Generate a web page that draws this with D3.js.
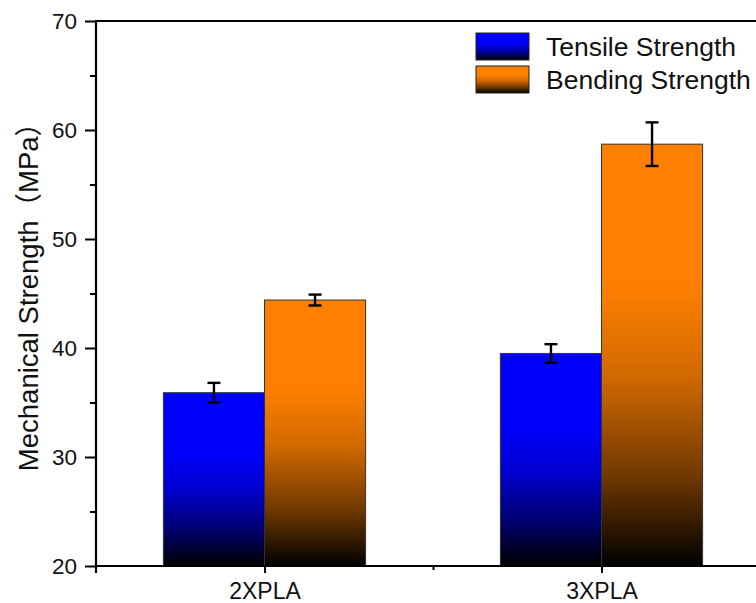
<!DOCTYPE html>
<html>
<head>
<meta charset="utf-8">
<script src="https://cdn.jsdelivr.net/npm/d3@7"></script>
<style>
  html, body { margin: 0; padding: 0; background: #fff; }
  svg { display: block; }
  text { font-family: Arial, "Liberation Sans", sans-serif; fill: #111; }
</style>
</head>
<body>
<svg id="chart" width="756" height="603"></svg>
<script>
// Sample categories and measured strengths (MPa) with their standard deviations
const categories = ["2XPLA", "3XPLA"];
const seriesNames = ["Tensile Strength", "Bending Strength"];
const seriesColors = ["#0000ff", "#ff8000"];
const tensile = [35.9, 39.5];
const tensileErr = [0.9, 0.85];
const bending = [44.4, 58.7];
const bendingErr = [0.5, 2.0];
const yTicks = [20, 30, 40, 50, 60, 70];
const yMinorTicks = [25, 35, 45, 55, 65];

const svg = d3.select("#chart");
const margin = { left: 96, top: 21, bottom: 566 };

// x runs on a continuous index so group centres sit at 1 and 2
const x = d3.scaleLinear().domain([0.5, 2.5]).range([96, 770]);
const y = d3.scaleLinear().domain([20, 70]).range([margin.bottom, margin.top]);
const barW = 0.3;

// Vertical fade-to-black gradient for each series
const defs = svg.append("defs");
seriesColors.forEach((c, i) => {
  const g = defs.append("linearGradient")
    .attr("id", "grad" + i)
    .attr("x1", 0).attr("y1", 0).attr("x2", 0).attr("y2", 1);
  const mix = d3.interpolateRgb(c, "#000");
  [[0, 0], [0.33, 0], [0.55, 0.18], [0.78, 0.55], [1, 1]].forEach(([o, t]) => {
    g.append("stop").attr("offset", o).attr("stop-color", mix(t));
  });
});

const series = [
  { values: tensile, errs: tensileErr, offset: -barW },
  { values: bending, errs: bendingErr, offset: 0 }
];

series.forEach((s, si) => {
  const rows = categories.map((c, i) => ({ pos: i + 1, v: s.values[i], e: s.errs[i] }));
  svg.append("g").selectAll("rect").data(rows).join("rect")
    .attr("x", d => x(d.pos + s.offset))
    .attr("y", d => y(d.v))
    .attr("width", d => x(d.pos + s.offset + barW) - x(d.pos + s.offset))
    .attr("height", d => y(20) - y(d.v))
    .attr("fill", `url(#grad${si})`)
    .attr("stroke", "#333")
    .attr("stroke-width", 1);

  // error bars
  const eg = svg.append("g").attr("stroke", "#000").attr("stroke-width", 2.4);
  rows.forEach(d => {
    const cx = x(d.pos + s.offset + barW / 2);
    eg.append("line").attr("x1", cx).attr("x2", cx).attr("y1", y(d.v + d.e)).attr("y2", y(d.v - d.e));
    eg.append("line").attr("x1", cx - 6.5).attr("x2", cx + 6.5).attr("y1", y(d.v + d.e)).attr("y2", y(d.v + d.e));
    eg.append("line").attr("x1", cx - 6.5).attr("x2", cx + 6.5).attr("y1", y(d.v - d.e)).attr("y2", y(d.v - d.e));
  });
});

// Left axis with major and minor ticks
const yAxis = svg.append("g").attr("transform", `translate(${margin.left},0)`)
  .call(d3.axisLeft(y).tickValues(yTicks).tickSize(11).tickPadding(8).tickFormat(d3.format("d")));
yAxis.select(".domain").remove();
yAxis.selectAll(".tick line").attr("stroke", "#000").attr("stroke-width", 2);
yAxis.selectAll(".tick text").style("font-size", "22.5px").style("font-family", "Arial, 'Liberation Sans', sans-serif").attr("fill", "#111");
svg.append("g").attr("transform", `translate(${margin.left},0)`)
  .call(d3.axisLeft(y).tickValues(yMinorTicks).tickSize(6).tickFormat(""))
  .call(g => g.select(".domain").remove())
  .selectAll(".tick line").attr("stroke", "#000").attr("stroke-width", 2);

// Bottom axis: category ticks plus a minor tick between groups
const xAxis = svg.append("g").attr("transform", `translate(0,${margin.bottom})`)
  .call(d3.axisBottom(x).tickValues([1, 2]).tickSize(7).tickPadding(10).tickFormat((d, i) => categories[i]));
xAxis.select(".domain").remove();
xAxis.selectAll(".tick line").attr("stroke", "#000").attr("stroke-width", 2);
xAxis.selectAll(".tick text").style("font-size", "23px").style("font-family", "Arial, 'Liberation Sans', sans-serif").attr("fill", "#111");
svg.append("g").attr("transform", `translate(0,${margin.bottom})`)
  .call(d3.axisBottom(x).tickValues([1.5]).tickSize(4).tickFormat(""))
  .call(g => g.select(".domain").remove())
  .selectAll(".tick line").attr("stroke", "#000").attr("stroke-width", 2);

// Frame lines
const frame = svg.append("g").attr("stroke", "#000").attr("stroke-width", 2.2);
frame.append("line").attr("x1", margin.left).attr("x2", 756).attr("y1", margin.bottom).attr("y2", margin.bottom);
frame.append("line").attr("x1", margin.left).attr("x2", 756).attr("y1", margin.top).attr("y2", margin.top);
frame.append("line").attr("x1", margin.left).attr("x2", margin.left).attr("y1", margin.top - 1).attr("y2", margin.bottom + 7);

// Y axis title
svg.append("text")
  .attr("transform", "translate(38,290) rotate(-90)")
  .attr("text-anchor", "middle")
  .style("font-size", "27.5px")
  .style("font-family", "Arial, 'Liberation Sans', 'Noto Sans CJK SC', sans-serif")
  .text("Mechanical Strength（MPa）");

// Legend
const legend = svg.append("g");
seriesNames.forEach((name, i) => {
  const ly = 33 + i * 33;
  legend.append("rect")
    .attr("x", 476).attr("y", ly).attr("width", 53).attr("height", 27)
    .attr("fill", `url(#grad${i})`).attr("stroke", "#222").attr("stroke-width", 1);
  legend.append("text")
    .attr("x", 546).attr("y", ly + 23)
    .style("font-size", "26.5px")
    .text(name);
});
</script>
</body>
</html>
